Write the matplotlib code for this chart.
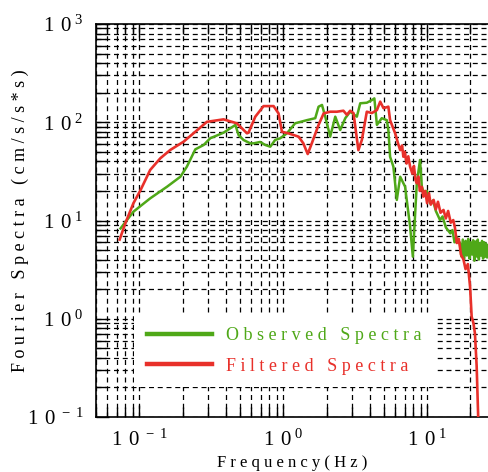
import matplotlib.pyplot as plt
import numpy as np
from matplotlib.ticker import LogLocator, FuncFormatter, NullFormatter

plt.rcParams['font.family'] = ['Liberation Serif', 'DejaVu Serif']
plt.rcParams['mathtext.default'] = 'regular'

obs_f = [0.074, 0.091, 0.119, 0.156, 0.193, 0.214, 0.245, 0.280, 0.311, 0.385, 0.465,
         0.490, 0.530, 0.590, 0.623, 0.692, 0.750, 0.813, 0.879, 0.953, 1.06, 1.21,
         1.46, 1.67, 1.76, 1.86, 1.96, 2.12, 2.30, 2.49, 2.70, 2.92, 3.25, 3.43, 3.81,
         4.13, 4.30, 4.48, 4.84, 5.25, 5.38, 5.53, 5.83, 6.16, 6.50, 7.03, 7.62, 7.96,
         8.48, 8.93, 9.19, 9.6, 10.0, 10.5, 11.0, 11.5, 12.3, 12.8, 13.5, 14.5, 15.0,
         15.5, 16.0, 16.9, 17.3, 17.7, 18.1, 18.5, 18.9, 19.3, 19.7, 20.1, 20.5, 20.9,
         21.3, 21.7, 22.1, 22.5, 22.9, 23.3, 23.7, 24.1, 24.5, 24.9, 25.3, 25.7, 26.1, 26.5]
obs_a = [8.3, 12.3, 16.8, 22.1, 27.9, 35.3, 53.0, 58.7, 68.7, 78.3, 93.8,
         74.0, 66.0, 61.0, 61.0, 63.0, 58.7, 56.4, 66.0, 68.7, 77.0, 97.6,
         105, 110, 144, 150, 114, 71.3, 114, 83.4, 110, 128, 114, 156, 158,
         168, 175, 94, 110, 105, 83, 44.6, 35.3, 16.2, 27.9, 22.1, 8.65, 4.28,
         23.9, 41.3, 22.1, 18, 20, 15, 16, 12.5, 10.1, 11, 8.5, 7.4, 8.0,
         6.0, 6.8, 5.9, 4.3, 6.4, 4.0, 6.2, 4.4, 6.5, 4.1, 6.0, 4.5, 6.3,
         3.9, 6.1, 4.3, 6.4, 4.0, 5.9, 4.4, 6.2, 4.1, 6.0, 4.3, 5.8, 4.2, 5.6]

# Filtered spectra (red)
fil_f = [0.073, 0.080, 0.091, 0.102, 0.119, 0.140, 0.164, 0.203, 0.238, 0.295, 0.385,
         0.476, 0.560, 0.574, 0.640, 0.730, 0.857, 0.928, 0.980, 1.09, 1.28, 1.38,
         1.48, 1.58, 1.76, 1.91, 2.12, 2.36, 2.62, 2.77, 2.92, 3.08, 3.33, 3.52, 3.81,
         4.13, 4.48, 4.72, 4.98, 5.38, 5.53, 6.0, 6.3, 6.5, 6.7, 6.84, 7.0, 7.2, 7.4,
         7.62, 7.9, 8.1, 8.3, 8.48, 8.7, 8.9, 9.2, 9.42, 9.7, 10.0, 10.3, 10.6, 11.1,
         11.5, 11.9, 12.4, 13.0, 13.5, 14.0, 14.6, 15.2, 15.6, 16.1, 16.6, 17.2, 17.9,
         18.5, 19.2, 19.9, 20.4, 21.0, 21.5, 22.1, 22.7]
fil_a = [6.4, 9.4, 15.0, 20.4, 32.7, 43.0, 52.2, 63.4, 77.2, 101, 107,
         97.6, 77.2, 78.3, 114, 146, 146, 123, 80, 77, 71.3, 61,
         47.5, 61, 93.8, 123, 128, 128, 131, 119, 131, 124, 52, 66, 128,
         124, 133, 162, 139, 144, 105, 77, 60, 52, 58, 44.6, 50, 38, 45,
         35.3, 30, 36, 26, 23.9, 28, 20, 22, 17.5, 20, 15, 19, 14.5, 16.2,
         13, 15.5, 12, 12.8, 10.5, 12.5, 9.5, 10.1, 8.5, 5.9, 6.5, 4.5, 4.0,
         3.2, 3.6, 2.1, 1.05, 0.9, 0.71, 0.33, 0.09]

green = '#4fa818'
red = '#e8302a'

fig = plt.figure(figsize=(4.88, 4.72), dpi=100)
ax = fig.add_axes([96 / 488, 55 / 472, 392 / 488, 393 / 472])

ax.plot(obs_f, obs_a, color=green, lw=1.8, label='O b s e r v e d   S p e c t r a', zorder=3)
ax.plot(fil_f, fil_a, color=red, lw=1.9, label='F i l t e r e d   S p e c t r a', zorder=3)

ax.set_xscale('log')
ax.set_yscale('log')
ax.set_xlim(0.05, 26.5)
ax.set_ylim(0.1, 1000)

ax.xaxis.set_major_locator(LogLocator(base=10, numticks=10))
ax.xaxis.set_minor_locator(LogLocator(base=10, subs=np.arange(2, 10), numticks=20))
ax.yaxis.set_major_locator(LogLocator(base=10, numticks=10))
ax.yaxis.set_minor_locator(LogLocator(base=10, subs=np.arange(2, 10), numticks=20))


def fmt(v, pos):
    e = int(round(np.log10(v)))
    if e < 0:
        return r'$1\,\,0^{\;-\,%d}$' % (-e)
    return r'$1\,\,0^{\;%d}$' % e


ax.xaxis.set_major_formatter(FuncFormatter(fmt))
ax.yaxis.set_major_formatter(FuncFormatter(fmt))
ax.xaxis.set_minor_formatter(NullFormatter())
ax.yaxis.set_minor_formatter(NullFormatter())

ax.tick_params(which='both', direction='in', top=True, right=False, labelsize=15)
ax.tick_params(which='major', length=9, width=1, pad=9)
ax.tick_params(which='minor', length=7, width=1)
ax.spines['right'].set_visible(False)
for s in ['left', 'bottom', 'top']:
    ax.spines[s].set_linewidth(1.2)

ax.grid(True, which='both', color='black', ls=(0, (4, 3)), lw=0.9)

ax.set_xlabel('F r e q u e n c y ( H z )', fontsize=12, labelpad=3)
ax.set_ylabel('F o u r i e r   S p e c t r a   ( c m / s / s * s )', fontsize=13)
ax.yaxis.set_label_coords(-0.17, 0.5)

leg = ax.legend(loc='center', bbox_to_anchor=(0.48, 0.168), fontsize=13,
                frameon=True, fancybox=False, framealpha=1, edgecolor='none',
                facecolor='white', labelcolor='linecolor', handlelength=3.6,
                handletextpad=0.8, labelspacing=0.75, borderpad=0.7)
leg.set_zorder(5)
for ln in leg.get_lines():
    ln.set_linewidth(3.2)

fig.savefig('out.png', dpi=100)
